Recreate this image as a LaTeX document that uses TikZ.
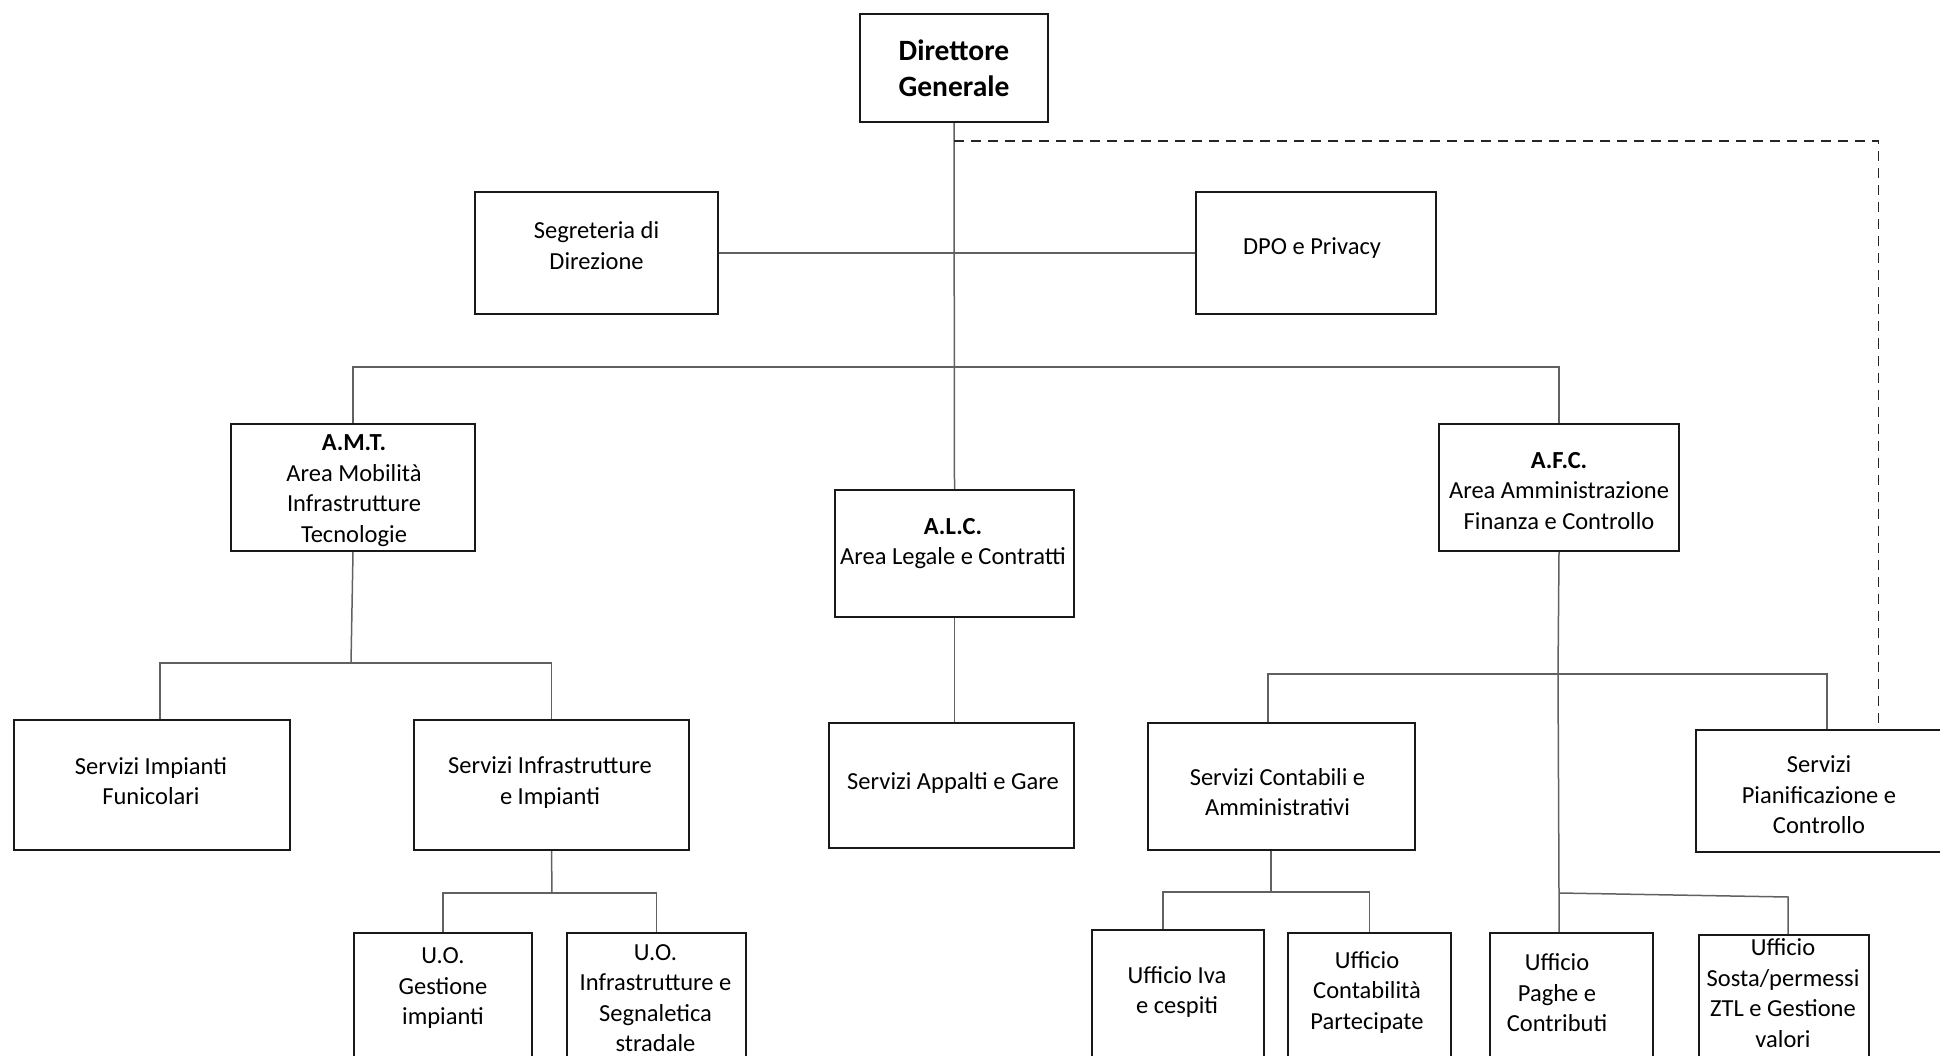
\documentclass[tikz,border=0pt]{standalone}
\usepackage{fontspec}
\setmainfont{Carlito}
\begin{document}
\begin{tikzpicture}[x=1pt,y=-1pt,
  box/.style={draw=black!90, line width=2.4pt, fill=white, inner sep=0pt, align=center, font=\fontsize{24.5}{30.5}\selectfont},
  txt/.style={inner sep=0pt, align=center, font=\fontsize{24.5}{30.5}\selectfont},
  conn/.style={draw=black!62, line width=1.5pt},
  dconn/.style={draw=black!85, line width=1.8pt, dash pattern=on 10pt off 7pt}]
\clip (0,0) rectangle (1940,1056);
\fill[white] (0,0) rectangle (1940,1056);

% top levels
\node[box, minimum width=188pt, minimum height=108pt, font=\fontsize{29.5}{36}\selectfont\bfseries] (dg) at (954,68) {Direttore\\Generale};
\node[box, minimum width=243pt, minimum height=122pt] (seg) at (596.5,253) {};
\node[txt] (segt) at (596.5,245.6) {Segreteria di\\Direzione};
\node[box, minimum width=240pt, minimum height=122pt] (dpo) at (1316,253) {};
\node[txt] (dpot) at (1312,248) {DPO e Privacy};

% areas
\node[box, minimum width=244pt, minimum height=127pt] (amt) at (353,487.5) {};
\node[txt] (amtt) at (354,490.5) {\textbf{A.M.T.}\\Area Mobilità\\Infrastrutture\\Tecnologie};
\node[box, minimum width=239pt, minimum height=127pt] (alc) at (954.5,553.5) {};
\node[txt] (alct) at (953,543.7) {\textbf{A.L.C.}\\Area Legale e Contratti};
\node[box, minimum width=240pt, minimum height=127pt] (afc) at (1559,487.5) {};
\node[txt] (afct) at (1559,490.8) {\textbf{A.F.C.}\\Area Amministrazione\\Finanza e Controllo};

% services
\node[box, minimum width=276pt, minimum height=130pt] (sif) at (152,785) {};
\node[txt] (sift) at (151,781.3) {Servizi Impianti\\Funicolari};
\node[box, minimum width=275pt, minimum height=130pt] (sii) at (551.5,785) {};
\node[txt] (siit) at (550,782.5) {Servizi Infrastrutture\\e Impianti};
\node[box, minimum width=245pt, minimum height=125pt] (sag) at (951.5,785.5) {};
\node[txt] (sagt) at (953,783) {Servizi Appalti e Gare};
\node[box, minimum width=267pt, minimum height=127pt] (sca) at (1281.5,786.5) {};
\node[txt] (scat) at (1277.5,792) {Servizi Contabili e\\Amministrativi};
\node[box, minimum width=249pt, minimum height=122pt] (spc) at (1820.5,791) {};
\node[txt] (spct) at (1819,795) {Servizi\\Pianificazione e\\Controllo};

% bottom offices (cut by page edge)
\node[box, minimum width=178pt, minimum height=148pt, anchor=north] (uog) at (443,932) {};
\node[txt] (uogt) at (443,988.5) {U.O.\\Gestione\\impianti};
\node[box, minimum width=179pt, minimum height=148pt, anchor=north] (uoi) at (656.5,932) {};
\node[txt] (uoit) at (655.5,998) {U.O.\\Infrastrutture e\\Segnaletica\\stradale};
\node[box, minimum width=172pt, minimum height=150pt, anchor=north] (uiva) at (1178,929) {};
\node[txt] (uivat) at (1177,992) {Ufficio Iva\\e cespiti};
\node[box, minimum width=163pt, minimum height=148pt, anchor=north] (ucp) at (1369.5,932) {};
\node[txt] (ucpt) at (1367,992) {Ufficio\\Contabilità\\Partecipate};
\node[box, minimum width=163pt, minimum height=148pt, anchor=north] (upc) at (1571.5,932) {};
\node[txt] (upct) at (1557,993) {Ufficio\\Paghe e\\Contributi};
\node[box, minimum width=170pt, minimum height=146pt, anchor=north] (usz) at (1784,934) {};
\node[txt] (uszt) at (1783,993) {Ufficio\\Sosta/permessi\\ZTL e Gestione\\valori};

% junction coordinates
\coordinate (jtop) at (954,367);
\coordinate (jd) at (954,141);
\coordinate (jamt) at (351,663);
\coordinate (jsii) at (552,893);
\coordinate (jafc) at (1558,674);
\coordinate (jsca) at (1271,892);
\coordinate (jlow) at (1559,893);
\coordinate (jusz) at (1788,897);

% connectors
\draw[conn] (dg.south) -- (alc.north);
\draw[conn] (seg.east) -- (dpo.west);
\draw[conn] (amt.north) |- (jtop) -| (afc.north);
\draw[dconn] (jd) -| ([xshift=58pt]spc.north);

\draw[conn] (amt.south) -- (jamt);
\draw[conn] ([xshift=8pt]sif.north) |- (jamt) -| (sii.north);

\draw[conn] (sii.south) -- (jsii);
\draw[conn] (uog.north) |- (jsii) -| (uoi.north);

\draw[conn] (alc.south) -- (alc.south |- sag.north);

\draw[conn] (afc.south) -- (jafc);
\draw[conn] ([xshift=-13.5pt]sca.north) |- (jafc) -| ([xshift=6.5pt]spc.north);
\draw[conn] (jafc) -- (jlow) -- (jlow |- upc.north);
\draw[conn] (jlow) -- (jusz) -- (usz.north -| jusz);

\draw[conn] (jsca |- sca.south) -- (jsca);
\draw[conn] ([xshift=-15pt]uiva.north) |- (jsca) -| (ucp.north);
\end{tikzpicture}
\end{document}
